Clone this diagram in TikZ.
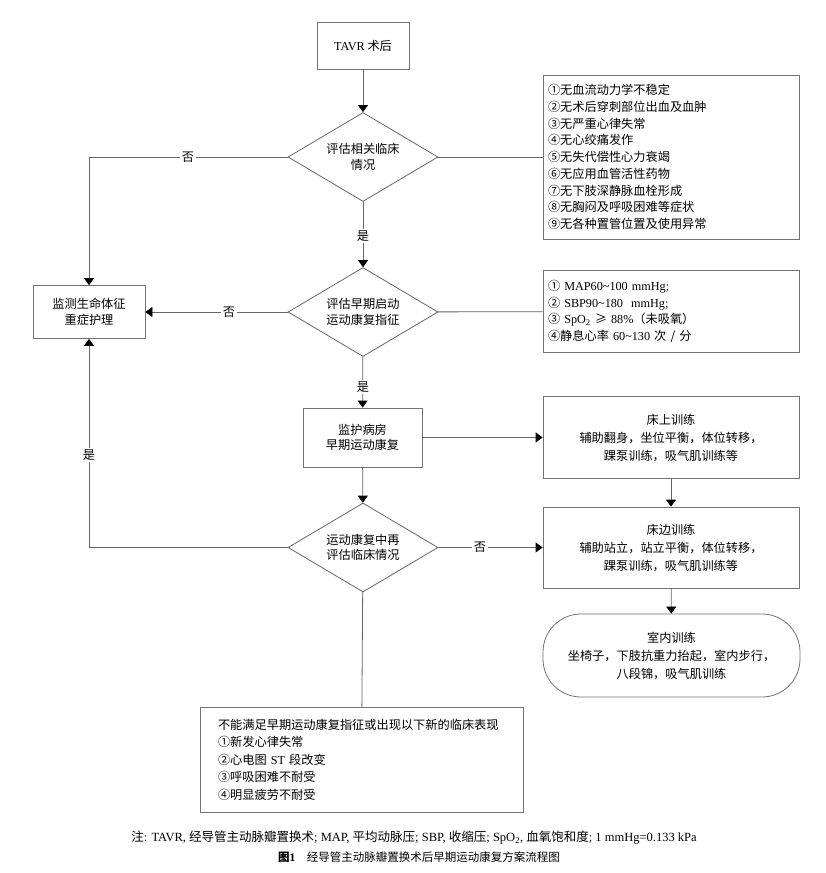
\documentclass[tikz,border=0pt]{standalone}
\usepackage{fontspec}
\setmainfont{Noto Sans CJK SC}
\newfontfamily\latf{Liberation Serif}
\newcommand\lt[1]{{\latf #1}}
\newcommand\tld{\char"7E\relax}
\usetikzlibrary{shapes.geometric,arrows.meta}
\begin{document}
\begin{tikzpicture}[x=1pt,y=-1pt,
  every node/.style={font=\fontsize{12.2}{15.5}\selectfont, text=black},
  line/.style={draw=black!60, line width=0.8pt},
  arr/.style={line, -{Triangle[width=10pt,length=7pt,color=black]}},
  box/.style={draw=black!55, line width=0.8pt, rectangle, inner sep=0pt, align=center},
  dia/.style={draw=black!60, line width=0.8pt, diamond, aspect=1.685, minimum width=150pt, minimum height=89pt, inner sep=0pt, align=center},
  lab/.style={fill=white, inner sep=1.5pt}
]
\useasboundingbox[fill=white] (0,0) rectangle (825,873);

% nodes
\node[box, minimum width=92pt, minimum height=47pt] (tavr) at (363,45.5) {\lt{TAVR} 术后};
\node[dia] (d1) at (363,157) {评估相关临床\\情况};
\node[box, minimum height=164pt, align=left, text width=246pt, inner xsep=5pt,
      font=\fontsize{12.2}{16.75}\selectfont] (c1) at (671,157)
 {①无血流动力学不稳定\\②无术后穿刺部位出血及血肿\\③无严重心律失常\\④无心绞痛发作\\⑤无失代偿性心力衰竭\\⑥无应用血管活性药物\\⑦无下肢深静脉血栓形成\\⑧无胸闷及呼吸困难等症状\\⑨无各种置管位置及使用异常};
\node[box, minimum width=112pt, minimum height=53pt] (left) at (89,312) {监测生命体征\\重症护理};
\node[dia] (d2) at (363,312) {评估早期启动\\运动康复指征};
\node[box, minimum height=82pt, align=left, text width=246pt, inner xsep=5pt,
      font=\fontsize{12.2}{16.4}\selectfont] (c2) at (671,311.5)
 {① \lt{MAP60\tld100 mmHg;}\\② \lt{SBP90\tld180\ \ mmHg;}\\③ \lt{SpO\textsubscript{2}} ≥ \lt{88\%}（未吸氧）\\④静息心率 \lt{60\tld130} 次 / 分};
\node[box, minimum width=119pt, minimum height=59pt] (rehab) at (362.5,437.5) {监护病房\\早期运动康复};
\node[box, minimum width=256pt, minimum height=82pt, font=\fontsize{12.2}{18}\selectfont] (c3) at (671,437.5)
 {床上训练\\辅助翻身，坐位平衡，体位转移，\\踝泵训练，吸气肌训练等};
\node[dia] (d3) at (363,547.5) {运动康复中再\\评估临床情况};
\node[box, minimum width=256pt, minimum height=81pt, font=\fontsize{12.2}{18}\selectfont] (c4) at (671,547.5)
 {床边训练\\辅助站立，站立平衡，体位转移，\\踝泵训练，吸气肌训练等};
\node[box, rounded corners=38pt, minimum width=257pt, minimum height=83pt, font=\fontsize{12.2}{18}\selectfont] (c5) at (671.5,655.5)
 {室内训练\\坐椅子，下肢抗重力抬起，室内步行，\\八段锦，吸气肌训练};
\node[box, minimum height=105pt, align=left, text width=287pt, inner xsep=18pt,
      font=\fontsize{12.2}{17.5}\selectfont] (bot) at (361.5,759.5)
 {不能满足早期运动康复指征或出现以下新的临床表现\\①新发心律失常\\②心电图 \lt{ST} 段改变\\③呼吸困难不耐受\\④明显疲劳不耐受};

% connectors
\draw[arr] (tavr) -- (d1);
\draw[line] (d1) -- (c1);
\draw[arr] (d1.west) -| (left.north);
\draw[arr] (d1) -- (d2);
\draw[line] (d2) -- (c2);
\draw[arr] (d2) -- (left);
\draw[arr] (d2) -- (rehab);
\draw[arr] (rehab) -- (c3);
\draw[arr] (rehab) -- (d3);
\draw[arr] (c3) -- (c4);
\draw[arr] (d3) -- (c4);
\draw[arr] (d3.west) -| (left.south);
\draw[arr] (c4) -- (c5);
\draw[line] (d3) -- (bot);

% labels
\node[lab] (n1) at (188,157) {否};
\node[lab] (y1) at (363,236) {是};
\node[lab] (n2) at (229,312) {否};
\node[lab] (y2) at (363,387) {是};
\node[lab] (n3) at (480,547.5) {否};
\node[lab] (y3) at (89,455) {是};

% caption
\node[font=\fontsize{12.5}{15}\selectfont] (cap1) at (414,838)
 {注\lt{: TAVR, }经导管主动脉瓣置换术\lt{; MAP, }平均动脉压\lt{; SBP, }收缩压\lt{; SpO\textsubscript{2}, }血氧饱和度\lt{; 1 mmHg=0.133 kPa}};
\node[font=\fontsize{11.5}{14}\selectfont] (cap2) at (419,857)
 {{\bfseries 图\lt{1}}\quad 经导管主动脉瓣置换术后早期运动康复方案流程图};
\end{tikzpicture}
\end{document}
